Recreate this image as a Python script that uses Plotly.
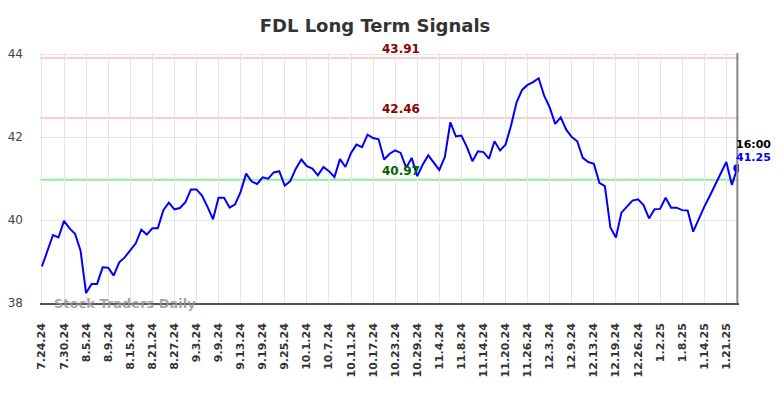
import plotly.graph_objects as go

dates = [
    "7.24.24", "7.25.24", "7.26.24", "7.29.24", "7.30.24", "7.31.24",
    "8.1.24", "8.2.24", "8.5.24", "8.6.24", "8.7.24", "8.8.24", "8.9.24", "8.12.24",
    "8.13.24", "8.14.24", "8.15.24", "8.16.24", "8.19.24", "8.20.24", "8.21.24", "8.22.24",
    "8.23.24", "8.26.24", "8.27.24", "8.28.24", "8.29.24", "8.30.24",
    "9.3.24", "9.4.24", "9.5.24", "9.6.24", "9.9.24", "9.10.24", "9.11.24", "9.12.24",
    "9.13.24", "9.16.24", "9.17.24", "9.18.24", "9.19.24", "9.20.24", "9.23.24", "9.24.24",
    "9.25.24", "9.26.24", "9.27.24", "9.30.24",
    "10.1.24", "10.2.24", "10.3.24", "10.4.24", "10.7.24", "10.8.24", "10.9.24", "10.10.24",
    "10.11.24", "10.14.24", "10.15.24", "10.16.24", "10.17.24", "10.18.24", "10.21.24",
    "10.22.24", "10.23.24", "10.24.24", "10.25.24", "10.28.24", "10.29.24", "10.30.24",
    "10.31.24",
    "11.1.24", "11.4.24", "11.5.24", "11.6.24", "11.7.24", "11.8.24", "11.11.24", "11.12.24",
    "11.13.24", "11.14.24", "11.15.24", "11.18.24", "11.19.24", "11.20.24", "11.21.24",
    "11.22.24", "11.25.24", "11.26.24", "11.27.24", "11.29.24",
    "12.2.24", "12.3.24", "12.4.24", "12.5.24", "12.6.24", "12.9.24", "12.10.24", "12.11.24",
    "12.12.24", "12.13.24", "12.16.24", "12.17.24", "12.18.24", "12.19.24", "12.20.24",
    "12.23.24", "12.24.24", "12.26.24", "12.27.24", "12.30.24", "12.31.24",
    "1.2.25", "1.3.25", "1.6.25", "1.7.25", "1.8.25", "1.9.25", "1.10.25", "1.13.25",
    "1.14.25", "1.15.25", "1.16.25", "1.17.25", "1.21.25", "1.22.25", "1.23.25",
]

prices = [
    38.88, 39.26, 39.64, 39.58, 39.98, 39.80, 39.67, 39.26, 38.24, 38.46,
    38.46, 38.86, 38.85, 38.66, 38.98, 39.10, 39.28, 39.44, 39.77, 39.65,
    39.80, 39.80, 40.24, 40.42, 40.26, 40.29, 40.43, 40.74, 40.74, 40.59,
    40.32, 40.02, 40.54, 40.54, 40.30, 40.38, 40.68, 41.12, 40.93, 40.87,
    41.03, 41.00, 41.15, 41.18, 40.83, 40.94, 41.24, 41.46, 41.30, 41.24,
    41.08, 41.28, 41.18, 41.04, 41.47, 41.28, 41.62, 41.82, 41.76, 42.06,
    41.98, 41.95, 41.46, 41.60, 41.68, 41.62, 41.26, 41.50, 41.06, 41.34,
    41.56, 41.38, 41.21, 41.52, 42.36, 42.02, 42.04, 41.76, 41.42, 41.66,
    41.64, 41.48, 41.90, 41.68, 41.82, 42.28, 42.84, 43.14, 43.26, 43.33,
    43.42, 43.00, 42.72, 42.32, 42.48, 42.18, 42.00, 41.90, 41.50, 41.40,
    41.36, 40.90, 40.82, 39.82, 39.58, 40.18, 40.32, 40.47, 40.50, 40.36,
    40.04, 40.26, 40.27, 40.54, 40.30, 40.30, 40.24, 40.23, 39.72, 40.04,
    40.32, 40.58, 40.86, 41.14, 41.40, 40.85, 41.25,
]

tick_labels = dates[::4]
y_ticks = [38, 40, 42, 44]

resistance_levels = [43.91, 42.46]
support_levels = [40.97]
last_time = "16:00"
last_value = 41.25
title = "FDL Long Term Signals"
watermark = "Stock Traders Daily"

FONT = "DejaVu Sans"
n = len(dates)

# page body has an 8px margin; figure is sized so it fills the window exactly
W, H = 776, 390
ML, MR, MT, MB = 32, 45, 45, 95
plot_w = W - ML - MR

fig = go.Figure()
fig.add_trace(go.Scatter(
    x=list(range(n)), y=prices, mode="lines",
    line=dict(color="#0000ff", width=2), hoverinfo="skip", showlegend=False,
))
fig.add_trace(go.Scatter(
    x=[n - 1], y=[last_value], mode="markers",
    marker=dict(color="#0000ff", size=8), hoverinfo="skip", showlegend=False,
))

shapes = []
annotations = []
label_x = 65
for lv in resistance_levels:
    shapes.append(dict(type="line", xref="paper", x0=0, x1=1, yref="y", y0=lv, y1=lv,
                       line=dict(color="#ffcccc", width=2), layer="below"))
    annotations.append(dict(x=label_x, y=lv, xref="x", yref="y", text=f"<b>{lv:.2f}</b>",
                            showarrow=False, yanchor="bottom", xanchor="center",
                            font=dict(family=FONT, size=12, color="#8b0000")))
for lv in support_levels:
    shapes.append(dict(type="line", xref="paper", x0=0, x1=1, yref="y", y0=lv, y1=lv,
                       line=dict(color="#90ee90", width=2), layer="below"))
    annotations.append(dict(x=label_x, y=lv, xref="x", yref="y", text=f"<b>{lv:.2f}</b>",
                            showarrow=False, yanchor="bottom", xanchor="center",
                            font=dict(family=FONT, size=12, color="#006400")))

# right vertical marker line at last point
shapes.append(dict(type="line", xref="x", x0=n - 1, x1=n - 1, yref="paper", y0=0, y1=1,
                   line=dict(color="#888888", width=2)))

annotations.append(dict(x=n - 1, y=41.82, xref="x", yref="y", text=f"<b>{last_time}</b>",
                        showarrow=False, xanchor="left", yanchor="middle", xshift=-3,
                        font=dict(family=FONT, size=11, color="#000000")))
annotations.append(dict(x=n - 1, y=41.50, xref="x", yref="y", text=f"<b>{last_value:.2f}</b>",
                        showarrow=False, xanchor="left", yanchor="middle", xshift=-3,
                        font=dict(family=FONT, size=11, color="#0000ff")))
annotations.append(dict(x=(54 - 8 - ML) / plot_w, y=38, xref="paper", yref="y",
                        text=f"<b>{watermark}</b>",
                        showarrow=False, xanchor="left", yanchor="middle", xshift=-2,
                        font=dict(family=FONT, size=13, color="rgba(150,150,150,0.85)")))

fig.update_layout(
    width=W, height=H,
    margin=dict(l=ML, r=MR, t=MT, b=MB, pad=0, autoexpand=False),
    paper_bgcolor="white", plot_bgcolor="white",
    title=dict(text=f"<b>{title}</b>", x=(375 - 8) / W, xanchor="center", y=1 - (26 - 8) / H,
               yanchor="middle", font=dict(family=FONT, size=18, color="#333333")),
    shapes=shapes, annotations=annotations,
    xaxis=dict(
        range=[-0.35, n - 1 + 0.3], automargin=False,
        tickmode="array", tickvals=list(range(0, n, 4)), ticktext=tick_labels,
        tickangle=-90, tickfont=dict(family=FONT, size=11, color="#333333", weight="bold"),
        showgrid=True, gridcolor="#e6e6e6", gridwidth=1,
        showline=True, linecolor="#555555", linewidth=1.5,
        ticks="", ticklabelstandoff=14, zeroline=False,
    ),
    yaxis=dict(
        range=[38, 44.03], automargin=False,
        tickmode="array", tickvals=y_ticks, ticktext=[str(v) for v in y_ticks],
        tickfont=dict(family=FONT, size=12, color="#444444"),
        showgrid=True, gridcolor="#e6e6e6", gridwidth=1,
        showline=False, ticks="", ticklabelstandoff=16, zeroline=False,
    ),
)

fig.write_html("out.html")
